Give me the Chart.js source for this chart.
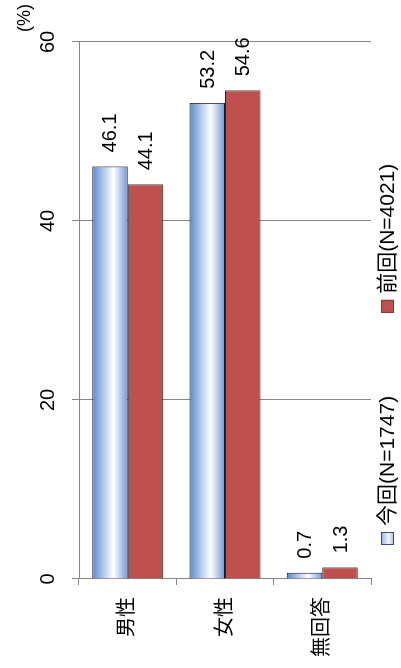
<!DOCTYPE html>
<html>
<head>
<meta charset="utf-8">
<script src="https://cdn.jsdelivr.net/npm/chart.js@4.4.1/dist/chart.umd.min.js"></script>
<style>
  html, body { margin: 0; padding: 0; background: #fff; overflow: hidden; }
  /* chart is drawn landscape, then turned a quarter turn so text reads bottom-to-top */
  #wrap { position: absolute; left: 0; top: 0; width: 668px; height: 401px;
          transform-origin: 0 0; transform: translate(0, 668px) rotate(-90deg); }
</style>
</head>
<body>
<div id="wrap"><canvas id="chart" width="668" height="401"></canvas></div>
<script>
// ===== data =====
const categories = ["男性", "女性", "無回答"];
const seriesNames = ["今回(N=1747)", "前回(N=4021)"];
const currentValues = [46.1, 53.2, 0.7];
const previousValues = [44.1, 54.6, 1.3];
const valueTicks = [0, 20, 40, 60];
const unitLabel = "(%)";

const FONT = "'Liberation Sans', 'Noto Sans CJK JP', sans-serif";
const CAT_PCT = 0.73;
const GRID = "#868686";

// ===== blue bars: white highlight across the bar =====
function blueFill(c) {
    const chart = c.chart;
    const yScale = chart.scales.y;
    if (!yScale || !chart.chartArea) return "#a9c0ea";
    const center = yScale.getPixelForValue(c.dataIndex);
    const thick = (yScale.height / categories.length) * CAT_PCT / 2;
    const g = chart.ctx.createLinearGradient(0, center - thick, 0, center);
    g.addColorStop(0, "#5a87d2");
    g.addColorStop(0.6, "#ffffff");
    g.addColorStop(1, "#6f98db");
    return g;
}

// ===== value labels at the end of each bar =====
const valueLabels = {
    id: "valueLabels",
    afterDatasetsDraw(chart) {
        const ctx = chart.ctx;
        ctx.save();
        ctx.font = "20px " + FONT;
        ctx.fillStyle = "#000";
        ctx.textAlign = "left";
        ctx.textBaseline = "middle";
        chart.data.datasets.forEach((ds, i) => {
            chart.getDatasetMeta(i).data.forEach((bar, j) => {
                ctx.fillText(ds.data[j].toFixed(1), bar.x + 14, bar.y + 1);
            });
        });
        ctx.restore();
    }
};

// ===== "(%)" unit and legend =====
const extras = {
    id: "extras",
    afterDraw(chart) {
        const ctx = chart.ctx;
        const area = chart.chartArea;
        ctx.save();
        ctx.fillStyle = "#000";
        ctx.textBaseline = "middle";
        ctx.font = "18px " + FONT;
        ctx.fillText(unitLabel, area.right + 10, 25);

        // legend row under the plot
        ctx.font = "21px " + FONT;
        let x = 123;
        const y = area.bottom + 16;
        chart.data.datasets.forEach((ds, i) => {
            if (i === 0) {
                const g = ctx.createLinearGradient(0, y - 6, 0, y + 7);
                g.addColorStop(0, "#8fb0e6");
                g.addColorStop(0.6, "#f4f7fd");
                g.addColorStop(1, "#9db9e9");
                ctx.fillStyle = g;
            } else {
                ctx.fillStyle = ds.backgroundColor;
            }
            ctx.strokeStyle = i === 0 ? "#2f4f86" : "#8b3331";
            ctx.lineWidth = 1;
            ctx.fillRect(x, y - 6, 13, 13);
            ctx.strokeRect(x + 0.5, y - 5.5, 12, 12);
            ctx.fillStyle = "#000";
            ctx.fillText(ds.label, x + 19, y + 1);
            x += 19 + ctx.measureText(ds.label).width + 83;
        });
        ctx.restore();
    }
};

new Chart(document.getElementById("chart"), {
    type: "bar",
    data: {
        labels: categories,
        datasets: [
            {
                label: seriesNames[0],
                data: currentValues,
                backgroundColor: blueFill,
                borderColor: "#1a1a1a",
                borderWidth: 1
            },
            {
                label: seriesNames[1],
                data: previousValues,
                backgroundColor: "#c0504d",
                borderColor: "#262626",
                borderWidth: 1
            }
        ]
    },
    options: {
        indexAxis: "y",
        responsive: false,
        animation: false,
        devicePixelRatio: 1,
        categoryPercentage: CAT_PCT,
        barPercentage: 1,
        layout: { padding: { left: 0, top: 0, right: 42, bottom: 30 } },
        plugins: {
            legend: { display: false },
            tooltip: { enabled: false }
        },
        scales: {
            x: {
                position: "top",
                min: 0,
                max: 60,
                afterFit: (s) => { s.height = 79; },
                afterBuildTicks: (s) => { s.ticks = valueTicks.map(v => ({ value: v })); },
                ticks: { color: "#000", padding: 12, font: { family: FONT, size: 20 } },
                grid: { color: GRID, tickLength: 7 },
                border: { color: GRID }
            },
            y: {
                afterFit: (s) => { s.width = 89; },
                ticks: { color: "#000", padding: 12, font: { family: FONT, size: 20 } },
                grid: { color: GRID, tickLength: 6, drawOnChartArea: false, offset: true },
                border: { color: GRID }
            }
        }
    },
    plugins: [valueLabels, extras]
});
</script>
</body>
</html>
